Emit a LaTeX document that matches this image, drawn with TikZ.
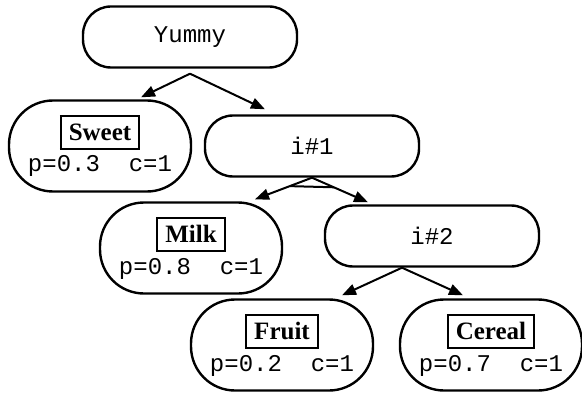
\documentclass[tikz,border=0pt]{standalone}
\usepackage{fontspec}
\usetikzlibrary{arrows.meta,calc}
\newfontfamily\monofont{Liberation Mono}
\newfontfamily\labfont{Liberation Serif}
\newcommand{\etiq}[1]{{\setlength{\fboxsep}{3.5pt}\setlength{\fboxrule}{1pt}%
  \fbox{\labfont\bfseries\fontsize{12.5}{14}\selectfont #1}}}

\begin{document}
\begin{tikzpicture}[x=0.5pt, y=-0.5pt,
  >={Triangle[length=7pt, width=5.5pt]},
  every node/.style={font=\monofont\fontsize{12}{15.7}\selectfont},
  choix/.style={draw, line width=1.2pt, rounded corners=14pt,
    minimum width=107pt, minimum height=30.5pt},
  feuille/.style={draw, line width=1.2pt, rounded corners=22pt, align=center,
    minimum width=91pt, minimum height=45.5pt, inner sep=0pt},
  fleche/.style={->, line width=1pt}]
  \useasboundingbox (0,0) rectangle (582,395);

  % Noeuds de choix
  \node[choix] (yummy) at (190,37) {Yummy};
  \node[choix] (i1) at (312,146) {i\#1};
  \node[choix] (i2) at (432,236) {i\#2};

  % Feuilles
  \node[feuille] (sweet) at (100,146) {\etiq{Sweet}\\p=0.3\ \ c=1};
  \node[feuille] (milk) at (191,248) {\etiq{Milk}\\p=0.8\ \ c=1};
  \node[feuille] (fruit) at (282,345) {\etiq{Fruit}\\p=0.2\ \ c=1};
  \node[feuille] (cereal) at (491,345) {\etiq{Cereal}\\p=0.7\ \ c=1};

  % Points d'arrivee
  \coordinate (pmilk) at ([xshift=32pt, yshift=1pt]milk.north);
  \coordinate (pi2) at ([xshift=-32pt, yshift=1pt]i2.north);

  % Fleches
  \draw[fleche] ([yshift=-2.5pt]yummy.south) -- ([xshift=20.5pt, yshift=1pt]sweet.north);
  \draw[fleche] ([yshift=-2.5pt]yummy.south) -- ([xshift=-23.5pt, yshift=2.5pt]i1.north);
  \draw[fleche] (i1.south) -- (pmilk);
  \draw[fleche] (i1.south) -- (pi2);
  \draw[line width=1pt] ($(i1.south)!0.39!(pmilk)$) -- ($(i1.south)!0.39!(pi2)$);
  \draw[fleche] ([xshift=-15pt]i2.south) -- ([xshift=30pt, yshift=1.5pt]fruit.north);
  \draw[fleche] ([xshift=-15pt]i2.south) -- ([xshift=-14pt, yshift=1.5pt]cereal.north);

\end{tikzpicture}
\end{document}
